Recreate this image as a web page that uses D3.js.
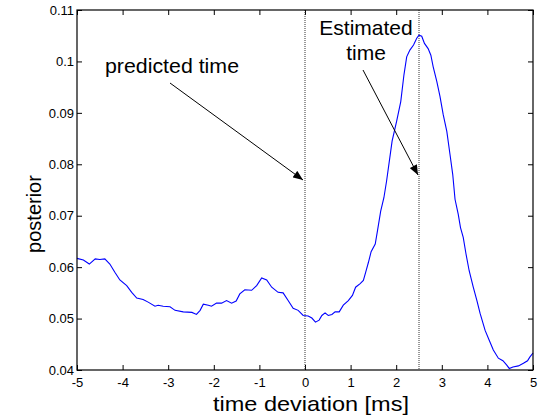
<!DOCTYPE html>
<html>
<head>
	<script src='https://d3js.org/d3.v7.min.js'></script>
	<style type="text/css">
		body { margin: 0; background: #fff; }
		text { font-family: Arial, 'Liberation Sans', sans-serif; }
		.axis path { display: none; }
		.axis line { stroke: #000; }
		.axis text { font-size: 13px; fill: #000; }
	</style>
</head>
<body>
	<script type="text/javascript">
		// time axis (ms) and posterior
		var timeMs = [-5.00, -4.86, -4.73, -4.60, -4.50, -4.39, -4.28, -4.17, -4.06, -3.91,
			-3.80, -3.69, -3.55, -3.44, -3.29, -3.22, -3.11, -2.96, -2.85, -2.67,
			-2.48, -2.38, -2.30, -2.23, -2.12, -2.05, -1.94, -1.83, -1.72, -1.61,
			-1.51, -1.43, -1.32, -1.17, -1.06, -0.95, -0.84, -0.73, -0.59, -0.48,
			-0.37, -0.26, -0.15, -0.04, 0.07, 0.15, 0.23, 0.31, 0.37, 0.44,
			0.51, 0.59, 0.66, 0.75, 0.84, 0.95, 1.04, 1.11, 1.21, 1.28,
			1.33, 1.39, 1.45, 1.54, 1.59, 1.66, 1.73, 1.79, 1.86, 1.91,
			2.01, 2.10, 2.17, 2.23, 2.30, 2.38, 2.45, 2.50, 2.56, 2.62,
			2.70, 2.76, 2.81, 2.89, 2.96, 3.03, 3.11, 3.18, 3.24, 3.29,
			3.36, 3.41, 3.47, 3.53, 3.60, 3.69, 3.77, 3.84, 3.95, 4.04,
			4.13, 4.24, 4.34, 4.42, 4.48, 4.56, 4.68, 4.79, 4.88, 4.93, 5.00];
		var posterior = [0.0617, 0.0614, 0.0606, 0.0616, 0.0615, 0.0616, 0.0606, 0.0590, 0.0575, 0.0564,
			0.0551, 0.0540, 0.0537, 0.0532, 0.0524, 0.0526, 0.0524, 0.0523, 0.0516, 0.0513,
			0.0512, 0.0508, 0.0516, 0.0528, 0.0526, 0.0524, 0.0530, 0.0530, 0.0535, 0.0530,
			0.0534, 0.0548, 0.0556, 0.0555, 0.0564, 0.0579, 0.0575, 0.0561, 0.0551, 0.0550,
			0.0535, 0.0520, 0.0516, 0.0506, 0.0505, 0.0501, 0.0493, 0.0497, 0.0506, 0.0511,
			0.0506, 0.0508, 0.0513, 0.0513, 0.0526, 0.0535, 0.0545, 0.0561, 0.0568, 0.0574,
			0.0590, 0.0609, 0.0630, 0.0645, 0.0671, 0.0709, 0.0735, 0.0768, 0.0813, 0.0845,
			0.0884, 0.0922, 0.0974, 0.1009, 0.1022, 0.1032, 0.1045, 0.1051, 0.1049, 0.1035,
			0.1025, 0.1012, 0.0990, 0.0961, 0.0932, 0.0897, 0.0864, 0.0819, 0.0780, 0.0732,
			0.0703, 0.0677, 0.0658, 0.0626, 0.0593, 0.0561, 0.0535, 0.0510, 0.0477, 0.0458,
			0.0439, 0.0423, 0.0418, 0.0410, 0.0403, 0.0406, 0.0408, 0.0413, 0.0418, 0.0425, 0.0433];

		var xTicks = [-5, -4, -3, -2, -1, 0, 1, 2, 3, 4, 5];
		var xTickLabels = ['-5', '-4', '-3', '-2', '-1', '0', '1', '2', '3', '4', '5'];
		var yTicks = [0.04, 0.05, 0.06, 0.07, 0.08, 0.09, 0.1, 0.11];
		var yTickLabels = ['0.04', '0.05', '0.06', '0.07', '0.08', '0.09', '0.1', '0.11'];

		// vertical markers: predicted and estimated times
		var markerTimes = [0, 2.5];

		var margin = {top: 10, right: 13, bottom: 48, left: 77};
		var dim = {
			w: 546 - margin.left - margin.right,
			h: 418 - margin.top - margin.bottom
		};

		var svg = d3.select('body')
			.append('svg')
				.attr('width', 546)
				.attr('height', 418);

		var g = svg.append('g')
			.attr('transform', 'translate(' + margin.left + ',' + margin.top + ')');

		var x = d3.scaleLinear().domain([-5, 5]).range([0, dim.w]),
			y = d3.scaleLinear().domain([0.04, 0.11]).range([dim.h, 0]);

		/** Axes with inward ticks, MATLAB style **/
		g.append('g')
			.attr('class', 'axis')
			.attr('transform', 'translate(0,' + dim.h + ')')
			.call(d3.axisBottom(x).tickValues(xTicks)
				.tickFormat(function(d, i) { return xTickLabels[i]; })
				.tickSizeInner(-5).tickSizeOuter(0).tickPadding(8));

		g.append('g')
			.attr('class', 'axis')
			.call(d3.axisTop(x).tickValues(xTicks).tickFormat('')
				.tickSizeInner(-5).tickSizeOuter(0));

		g.append('g')
			.attr('class', 'axis')
			.call(d3.axisLeft(y).tickValues(yTicks)
				.tickFormat(function(d, i) { return yTickLabels[i]; })
				.tickSizeInner(-5).tickSizeOuter(0).tickPadding(3));

		g.append('g')
			.attr('class', 'axis')
			.attr('transform', 'translate(' + dim.w + ',0)')
			.call(d3.axisRight(y).tickValues(yTicks).tickFormat('')
				.tickSizeInner(-5).tickSizeOuter(0));

		/** Dotted time markers **/
		g.selectAll('.marker')
			.data(markerTimes).enter()
			.append('line')
				.attr('class', 'marker')
				.attr('x1', function(d) { return x(d); })
				.attr('x2', function(d) { return x(d); })
				.attr('y1', 0)
				.attr('y2', dim.h)
				.style('stroke', '#333')
				.style('stroke-width', 1)
				.style('stroke-dasharray', '1,1');

		/** Posterior curve **/
		var line = d3.line()
			.x(function(d, i) { return x(timeMs[i]); })
			.y(function(d) { return y(d); });

		g.append('path')
			.datum(posterior)
			.attr('d', line)
			.style('fill', 'none')
			.style('stroke', '#0000ff')
			.style('stroke-width', 1.1);

		// plot box
		g.append('rect')
			.attr('width', dim.w)
			.attr('height', dim.h)
			.style('fill', 'none')
			.style('stroke', '#000')
			.style('stroke-width', 1.2);

		/** Annotations **/
		svg.append('defs').append('marker')
			.attr('id', 'head')
			.attr('viewBox', '0 0 10 8')
			.attr('refX', 10)
			.attr('refY', 4)
			.attr('markerWidth', 11)
			.attr('markerHeight', 8)
			.attr('markerUnits', 'userSpaceOnUse')
			.attr('orient', 'auto')
			.append('path')
				.attr('d', 'M0,0L10,4L0,8Z')
				.style('fill', '#000');

		svg.append('line')
			.attr('x1', 170).attr('y1', 83)
			.attr('x2', x(0) + margin.left - 2).attr('y2', 180)
			.style('stroke', '#000')
			.attr('marker-end', 'url(#head)');

		svg.append('line')
			.attr('x1', 363).attr('y1', 70)
			.attr('x2', x(2.5) + margin.left - 1).attr('y2', 175)
			.style('stroke', '#000')
			.attr('marker-end', 'url(#head)');

		svg.append('text')
			.attr('x', 105).attr('y', 73)
			.attr('textLength', 134)
			.attr('lengthAdjust', 'spacingAndGlyphs')
			.style('font-size', '20px')
			.text('predicted time');

		svg.append('text')
			.attr('x', 366).attr('y', 35)
			.attr('text-anchor', 'middle')
			.style('font-size', '21px')
			.text('Estimated');

		svg.append('text')
			.attr('x', 366).attr('y', 60)
			.attr('text-anchor', 'middle')
			.style('font-size', '21px')
			.text('time');

		svg.append('text')
			.attr('x', 213)
			.attr('y', 411)
			.attr('textLength', 196)
			.attr('lengthAdjust', 'spacingAndGlyphs')
			.style('font-size', '21px')
			.text('time deviation [ms]');

		svg.append('text')
			.attr('transform', 'translate(41,' + (margin.top + dim.h / 2 + 24) + ') rotate(-90)')
			.attr('text-anchor', 'middle')
			.style('font-size', '20px')
			.text('posterior');
	</script>
</body>
</html>
